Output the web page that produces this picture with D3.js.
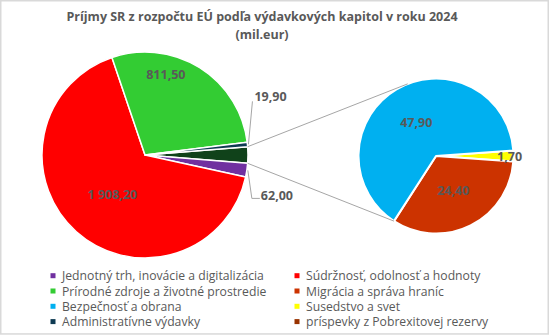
<!DOCTYPE html>
<html>
<head>
<meta charset="utf-8">
<script src="https://cdn.jsdelivr.net/npm/d3@7"></script>
<style>
  html, body { margin: 0; padding: 0; background: #fff; }
  svg { display: block; font-family: "Open Sans", "Noto Sans", sans-serif; }
</style>
</head>
<body>
<svg id="chart" width="550" height="336"></svg>
<script>
// Chapters shown in the main pie (clockwise from the "other" wedge at 3 o'clock)
const mainCategories = ["Jednotný trh, inovácie a digitalizácia", "Súdržnosť, odolnosť a hodnoty",
  "Prírodné zdroje a životné prostredie", "Administratívne výdavky"];
const mainValues = [62.00, 1908.20, 811.50, 19.90];

// Chapters split out into the secondary pie (clockwise from 3 o'clock)
const subCategories = ["Susedstvo a svet", "Migrácia a správa hraníc", "Bezpečnosť a obrana", "príspevky z Pobrexitovej rezervy"];
const subValues = [1.70, 24.40, 47.90, 0];

// Legend order (two columns, read row by row)
const legendCategories = ["Jednotný trh, inovácie a digitalizácia", "Súdržnosť, odolnosť a hodnoty",
  "Prírodné zdroje a životné prostredie", "Migrácia a správa hraníc",
  "Bezpečnosť a obrana", "Susedstvo a svet",
  "Administratívne výdavky", "príspevky z Pobrexitovej rezervy"];

const titleLines = ["Príjmy SR z rozpočtu EÚ podľa výdavkových kapitol v roku 2024", "(mil.eur)"];

const colors = {
  "Jednotný trh, inovácie a digitalizácia": "#7030a0",
  "Súdržnosť, odolnosť a hodnoty": "#ff0000",
  "Prírodné zdroje a životné prostredie": "#33cc33",
  "Migrácia a správa hraníc": "#cc3300",
  "Bezpečnosť a obrana": "#00b0f0",
  "Susedstvo a svet": "#ffff00",
  "Administratívne výdavky": "#0e3a52",
  "príspevky z Pobrexitovej rezervy": "#993300",
  "other": "#10421a"
};

const fmt = v => {
  const s = v.toFixed(2).replace(".", ",");
  const [i, d] = s.split(",");
  return i.replace(/\B(?=(\d{3})+(?!\d))/g, "\u00a0") + "," + d;
};

const svg = d3.select("#chart");
const W = 550, H = 336;
const textColor = "#595959";

// chart frame
svg.append("rect").attr("x", 0.75).attr("y", 0.75).attr("width", W - 2.5).attr("height", H - 2.8)
  .attr("fill", "#fff").attr("stroke", "#d9d9d9").attr("stroke-width", 1.5);

// title
const title = svg.append("text").attr("text-anchor", "middle").attr("fill", textColor)
  .attr("font-weight", 700).attr("font-size", 12.5);
titleLines.forEach((t, i) => title.append("tspan").attr("x", 262).attr("y", 21 + i * 18).text(t));

// ---- main pie ----
const otherTotal = d3.sum(subValues);
const mainData = [{ key: "other", value: otherTotal }].concat(
  mainCategories.map((c, i) => ({ key: c, value: mainValues[i] })));
const mainTotal = d3.sum(mainData, d => d.value);
const otherSpan = 2 * Math.PI * otherTotal / mainTotal;

const mainCx = 145, mainCy = 155, mainR = 103;
const mainPie = d3.pie().sort(null).value(d => d.value)
  .startAngle(Math.PI / 2 - otherSpan / 2).endAngle(Math.PI / 2 - otherSpan / 2 + 2 * Math.PI);
const mainArcs = mainPie(mainData);
const mainArc = d3.arc().innerRadius(0).outerRadius(mainR);

const gMain = svg.append("g").attr("transform", `translate(${mainCx},${mainCy})`);
gMain.selectAll("path").data(mainArcs).join("path")
  .attr("d", mainArc)
  .attr("fill", d => colors[d.data.key])
  .attr("stroke", "#fff").attr("stroke-width", 1.5).attr("stroke-linejoin", "round");

// ---- secondary pie ----
const subData = subCategories.map((c, i) => ({ key: c, value: subValues[i] }));
const firstSpan = 2 * Math.PI * subValues[0] / otherTotal;
const subCx = 436, subCy = 156, subR = 77.5;
const subPie = d3.pie().sort(null).value(d => d.value)
  .startAngle(Math.PI / 2 - firstSpan / 2).endAngle(Math.PI / 2 - firstSpan / 2 + 2 * Math.PI);
const subArcs = subPie(subData);
const subArc = d3.arc().innerRadius(0).outerRadius(subR);

const gSub = svg.append("g").attr("transform", `translate(${subCx},${subCy})`);
gSub.selectAll("path").data(subArcs.filter(d => d.value > 0)).join("path")
  .attr("d", subArc)
  .attr("fill", d => colors[d.data.key])
  .attr("stroke", "#fff").attr("stroke-width", 2).attr("stroke-linejoin", "round");

// ---- connector lines between the "other" wedge and the secondary pie ----
const polar = (cx, cy, r, a) => [cx + r * Math.sin(a), cy - r * Math.cos(a)];
const otherArc = mainArcs[0];
const pTop = polar(mainCx, mainCy, mainR, otherArc.startAngle);
const pBot = polar(mainCx, mainCy, mainR, otherArc.endAngle);
// upper line: tangent to the secondary pie
const dTop = Math.hypot(subCx - pTop[0], subCy - pTop[1]);
const baseA = Math.atan2(pTop[0] - subCx, -(pTop[1] - subCy));
const qTop = polar(subCx, subCy, subR, baseA + Math.acos(subR / dTop));
// lower line: meets the pie where the migration wedge ends
const qBot = polar(subCx, subCy, subR, subArcs[1].endAngle);
svg.append("g").attr("stroke", "#a6a6a6").attr("stroke-width", 1).attr("fill", "none")
  .selectAll("line").data([[pTop, qTop], [pBot, qBot]]).join("line")
  .attr("x1", d => d[0][0]).attr("y1", d => d[0][1])
  .attr("x2", d => d[1][0]).attr("y2", d => d[1][1]);

// ---- data labels ----
const labelStyle = sel => sel.attr("fill", textColor).attr("font-weight", 700).attr("font-size", 12.5)
  .attr("dominant-baseline", "central");

// inside labels on the main pie (radius fraction, angle shift in degrees)
const mainInside = { "Súdržnosť, odolnosť a hodnoty": [0.5, -2.5], "Prírodné zdroje a životné prostredie": [0.81, -17.6] };
mainArcs.filter(d => mainInside[d.data.key]).forEach(d => {
  const [f, shift] = mainInside[d.data.key];
  const a = (d.startAngle + d.endAngle) / 2 + shift * Math.PI / 180;
  const [x, y] = polar(mainCx, mainCy, mainR * f, a);
  svg.append("text").call(labelStyle).attr("x", x).attr("y", y).attr("text-anchor", "middle").text(fmt(d.value));
});

// outside labels with leader lines (label offset from the wedge edge)
const mainOutside = { "Administratívne výdavky": [0, -43], "Jednotný trh, inovácie a digitalizácia": [0, 28] };
mainArcs.filter(d => mainOutside[d.data.key]).forEach(d => {
  const [ox, oy] = mainOutside[d.data.key];
  const a = (d.startAngle + d.endAngle) / 2;
  const p0 = polar(mainCx, mainCy, mainR + 1, a);
  const bx = p0[0] + 4 + ox, by = p0[1] + oy;
  const pts = oy < 0 ? [p0, [bx, by]] : [p0, [bx, by], [bx + 8, by]];
  svg.append("path").attr("d", d3.line()(pts)).attr("fill", "none").attr("stroke", "#a6a6a6").attr("stroke-width", 1);
  svg.append("text").call(labelStyle)
    .attr("x", oy < 0 ? bx + 2 : bx + 9).attr("y", oy < 0 ? by - 5 : by - 3)
    .attr("text-anchor", "start").text(fmt(d.value));
});

// secondary pie labels
const subLabelR = { "Susedstvo a svet": 0.95 };
subArcs.filter(d => d.value > 0).forEach(d => {
  const f = subLabelR[d.data.key] || 0.5;
  const [x, y] = polar(subCx, subCy, subR * f, (d.startAngle + d.endAngle) / 2);
  svg.append("text").call(labelStyle).attr("x", x).attr("y", y).attr("text-anchor", "middle").text(fmt(d.value));
});

// ---- legend ----
const legend = svg.append("g").attr("font-size", 12.2).attr("fill", textColor);
legendCategories.forEach((c, i) => {
  const col = i % 2, row = Math.floor(i / 2);
  const x = col === 0 ? 53 : 297;
  const y = 275.7 + row * 15.3;
  legend.append("rect").attr("x", x - 2.5).attr("y", y - 2.5).attr("width", 5).attr("height", 5).attr("fill", colors[c]);
  legend.append("text").attr("x", x + 9).attr("y", y).attr("dominant-baseline", "central").text(c);
});
</script>
</body>
</html>
